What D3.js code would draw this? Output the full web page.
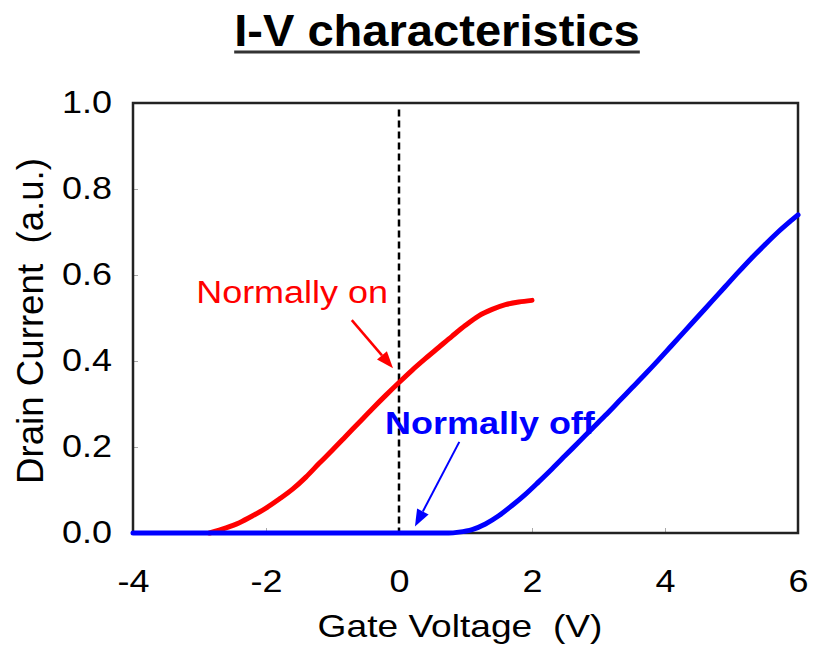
<!DOCTYPE html>
<html>
<head>
<meta charset="utf-8">
<script src="https://cdn.jsdelivr.net/npm/d3@7"></script>
<style>
  body { margin: 0; background: #fff; }
  svg { display: block; }
  text { font-family: "Liberation Sans", Arial, Helvetica, sans-serif; }
</style>
</head>
<body>
<svg id="chart" width="814" height="646"></svg>
<script>
// Axis ticks
const xTicks = [-4, -2, 0, 2, 4, 6];
const yTicks = [0.0, 0.2, 0.4, 0.6, 0.8, 1.0];
const xTickLabels = ["-4", "-2", "0", "2", "4", "6"];
const yTickLabels = ["0.0", "0.2", "0.4", "0.6", "0.8", "1.0"];

// Normally-on device: gate voltage (V) and drain current (a.u.)
const onVoltage = [-2.85, -2.6, -2.4, -2.2, -2.0, -1.8, -1.6, -1.4, -1.2, -1.0, -0.8, -0.6, -0.4, -0.2, 0.0,
                   0.2, 0.4, 0.6, 0.8, 1.0, 1.2, 1.4, 1.6, 1.8, 2.0];
const onCurrent = [0.0, 0.012, 0.024, 0.04, 0.058, 0.079, 0.102, 0.13, 0.162, 0.193, 0.225, 0.257, 0.289, 0.32, 0.35,
                   0.379, 0.406, 0.432, 0.458, 0.483, 0.505, 0.52, 0.531, 0.537, 0.541];

// Normally-off device
const offVoltage = [-4.0, 0.75, 0.9, 1.1, 1.3, 1.5, 1.7, 1.9, 2.1, 2.3, 2.5, 2.7, 2.9, 3.1, 3.3, 3.5, 3.7,
                    3.9, 4.1, 4.3, 4.5, 4.7, 4.9, 5.1, 5.3, 5.5, 5.7, 5.9, 6.0];
const offCurrent = [0.0, 0.0, 0.002, 0.008, 0.021, 0.04, 0.064, 0.09, 0.119, 0.149, 0.18, 0.211, 0.242, 0.273, 0.305, 0.337, 0.369,
                    0.402, 0.436, 0.47, 0.504, 0.538, 0.572, 0.606, 0.639, 0.67, 0.70, 0.727, 0.74];

const W = 814, H = 646;
const margin = { top: 103, right: 16, bottom: 113, left: 133 };
const SX = 1.16; // horizontal widening of the lettering

const svg = d3.select("#chart");
const x = d3.scaleLinear().domain([-4, 6]).range([margin.left, W - margin.right]);
const y = d3.scaleLinear().domain([0, 1]).range([H - margin.bottom, margin.top]);

function widen(sel, k) {
  sel.each(function () {
    const len = this.getComputedTextLength();
    d3.select(this).attr("textLength", len * k).attr("lengthAdjust", "spacingAndGlyphs");
  });
  return sel;
}

// Title with underline
const title = svg.append("text")
  .attr("x", 437).attr("y", 46)
  .attr("text-anchor", "middle")
  .attr("font-size", 44).attr("font-weight", "bold")
  .text("I-V characteristics");
widen(title, 1.07);
const tb = title.node().getBBox();
svg.append("line")
  .attr("x1", tb.x).attr("x2", tb.x + tb.width)
  .attr("y1", 52).attr("y2", 52)
  .attr("stroke", "#333").attr("stroke-width", 3);

// Small inward ticks
svg.append("g")
  .attr("transform", `translate(0,${y(0)})`)
  .call(d3.axisBottom(x).tickValues([-2, 2, 4]).tickSize(-5).tickFormat(""))
  .call(g => g.select(".domain").remove())
  .call(g => g.selectAll("line").attr("stroke", "#aaa"));
svg.append("g")
  .attr("transform", `translate(${x(-4)},0)`)
  .call(d3.axisLeft(y).tickValues([0.2, 0.4, 0.6, 0.8]).tickSize(-5).tickFormat(""))
  .call(g => g.select(".domain").remove())
  .call(g => g.selectAll("line").attr("stroke", "#aaa"));

// Tick labels
const xAxis = svg.append("g")
  .attr("transform", `translate(0,${y(0)})`)
  .call(d3.axisBottom(x).tickValues(xTicks).tickSize(0).tickPadding(37)
    .tickFormat((d, i) => xTickLabels[i]))
  .call(g => g.select(".domain").remove());
xAxis.selectAll("text").attr("font-size", 31).attr("fill", "#000")
  .style("font-family", '"Liberation Sans", Arial, sans-serif');
widen(xAxis.selectAll("text"), SX);

const yAxis = svg.append("g")
  .attr("transform", `translate(${x(-4)},0)`)
  .call(d3.axisLeft(y).tickValues(yTicks).tickSize(0).tickPadding(21)
    .tickFormat((d, i) => yTickLabels[i]))
  .call(g => g.select(".domain").remove());
yAxis.selectAll("text").attr("font-size", 31).attr("fill", "#000")
  .style("font-family", '"Liberation Sans", Arial, sans-serif');
widen(yAxis.selectAll("text"), SX);

// Axis titles
const xTitle = svg.append("text")
  .attr("x", 460).attr("y", 637)
  .attr("text-anchor", "middle").attr("font-size", 32)
  .attr("xml:space", "preserve")
  .text("Gate Voltage  (V)");
widen(xTitle, SX);

const yTitle = svg.append("text")
  .attr("transform", "translate(43,321) rotate(-90)")
  .attr("text-anchor", "middle").attr("font-size", 36)
  .attr("xml:space", "preserve")
  .text("Drain Current  (a.u.)");
yTitle.attr("textLength", 326).attr("lengthAdjust", "spacingAndGlyphs");

// Zero-gate-voltage reference
svg.append("line")
  .attr("x1", x(0)).attr("x2", x(0))
  .attr("y1", y(0.985)).attr("y2", y(0))
  .attr("stroke", "#000").attr("stroke-width", 2.5)
  .attr("stroke-dasharray", "7,4");

// Frame
svg.append("rect")
  .attr("x", x(-4)).attr("y", y(1))
  .attr("width", x(6) - x(-4)).attr("height", y(0) - y(1))
  .attr("fill", "none").attr("stroke", "#222").attr("stroke-width", 2.5);

// Curves
const line = d3.line().x(d => x(d[0])).y(d => y(d[1])).curve(d3.curveMonotoneX);
svg.append("path")
  .datum(d3.zip(onVoltage, onCurrent))
  .attr("d", line)
  .attr("fill", "none").attr("stroke", "#ff0000")
  .attr("stroke-width", 5).attr("stroke-linecap", "round").attr("stroke-linejoin", "round");
svg.append("path")
  .datum(d3.zip(offVoltage, offCurrent))
  .attr("d", line)
  .attr("fill", "none").attr("stroke", "#0000ff")
  .attr("stroke-width", 5).attr("stroke-linecap", "round").attr("stroke-linejoin", "round");

// Annotation arrows
function arrow(x0, y0, x1, y1, color, width) {
  const ang = Math.atan2(y1 - y0, x1 - x0);
  const L = 17, hw = 6.5;
  const bx = x1 - L * Math.cos(ang), by = y1 - L * Math.sin(ang);
  svg.append("line")
    .attr("x1", x0).attr("y1", y0).attr("x2", bx).attr("y2", by)
    .attr("stroke", color).attr("stroke-width", width);
  const px = -Math.sin(ang) * hw, py = Math.cos(ang) * hw;
  svg.append("polygon")
    .attr("points", [[x1, y1], [bx + px, by + py], [bx - px, by - py]].map(p => p.join(",")).join(" "))
    .attr("fill", color);
}
arrow(x(-0.71), y(0.495), x(-0.09), y(0.383), "#ff0000", 2.5);
arrow(x(0.907), y(0.212), x(0.24), y(0.015), "#0000ff", 2);

// Annotation labels
const onLabel = svg.append("text")
  .attr("x", x(-3.05)).attr("y", y(0.535))
  .attr("font-size", 31).attr("fill", "#ff0000")
  .text("Normally on");
widen(onLabel, SX);
const offLabel = svg.append("text")
  .attr("x", x(-0.21)).attr("y", y(0.23))
  .attr("font-size", 31).attr("font-weight", "bold").attr("fill", "#0000ff")
  .text("Normally off");
widen(offLabel, SX);
</script>
</body>
</html>
